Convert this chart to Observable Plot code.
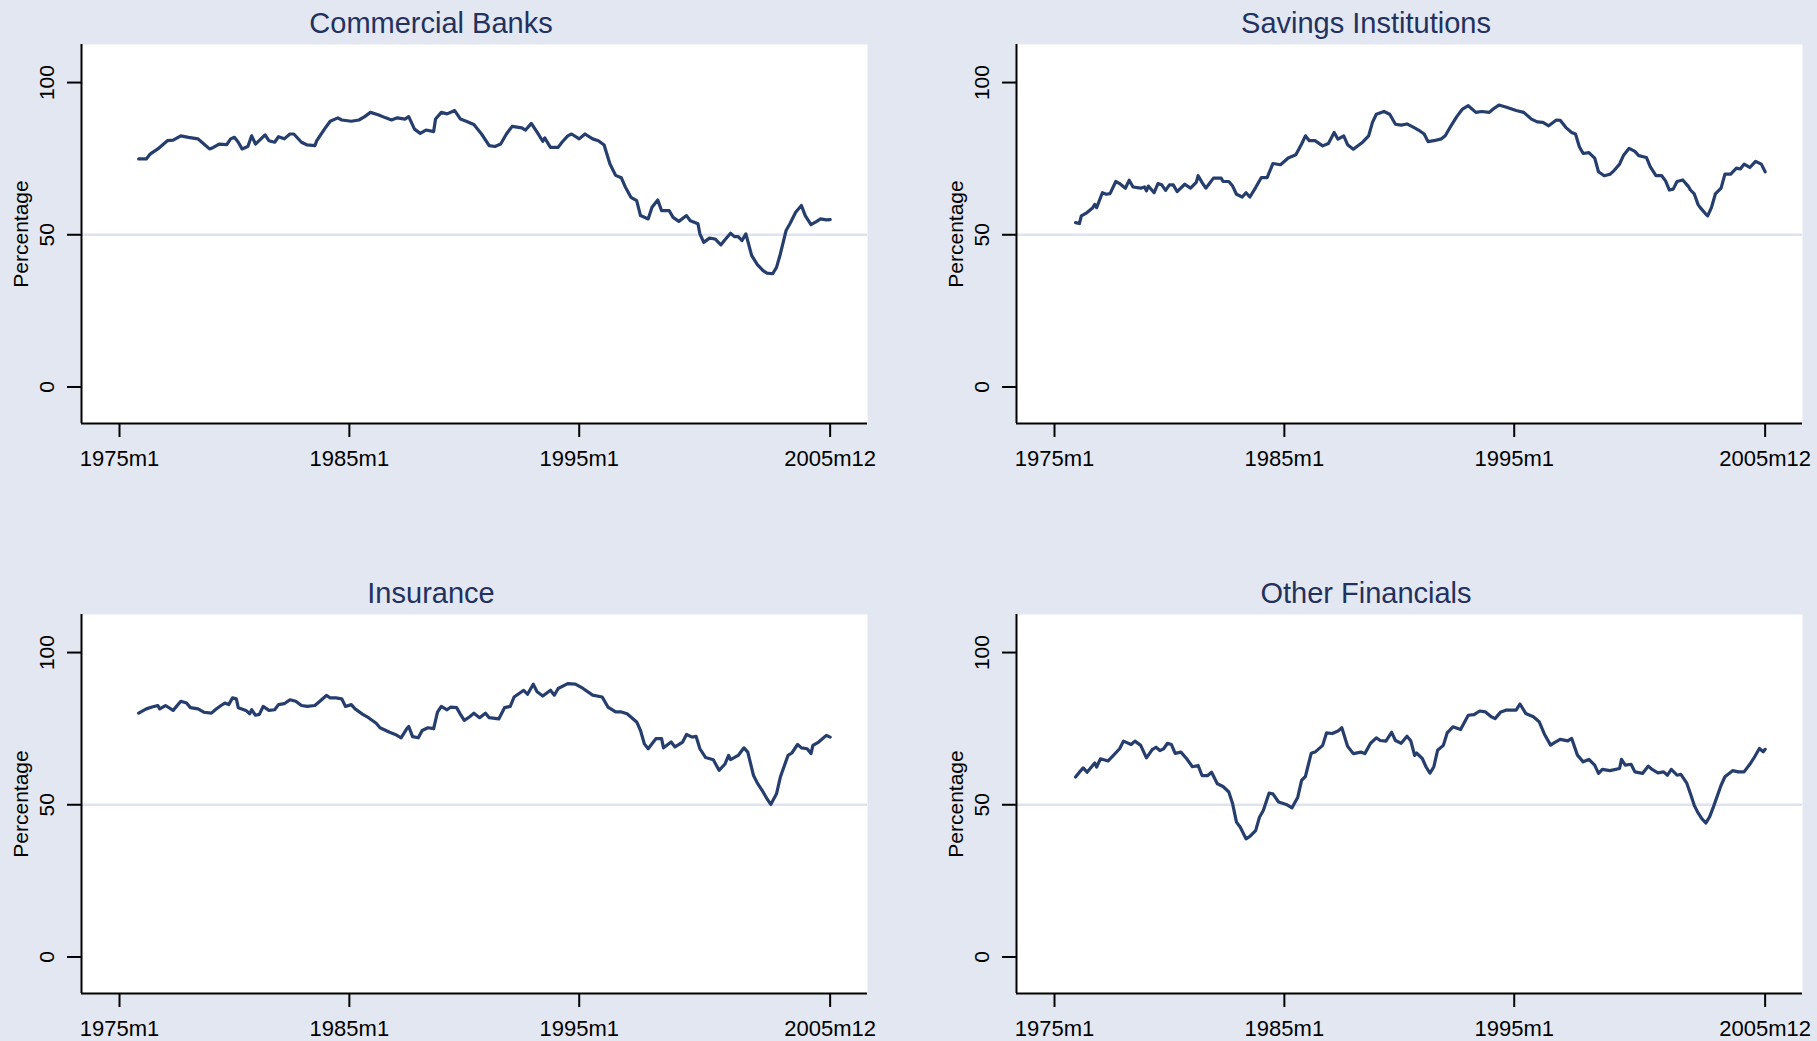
<!DOCTYPE html>
<html>
<head>
<meta charset="utf-8">
<script src="https://cdn.jsdelivr.net/npm/d3@7"></script>
<script src="https://cdn.jsdelivr.net/npm/@observablehq/plot@0.6"></script>
<style>
  html, body { margin: 0; padding: 0; overflow: hidden; background: #E2E7F1; }
  #chart { position: relative; width: 1817px; height: 1041px; background: #E2E7F1;
           font-family: "Liberation Sans", Arial, Helvetica, sans-serif; }
  .panel { position: absolute; width: 895px; height: 480px; }
  .title { position: absolute; left: 0; top: 0; width: 862px; height: 46px; line-height: 46px;
           text-align: center; font-size: 29px; color: #22315E; white-space: nowrap; }
  .plotwrap { position: absolute; left: 0; top: 44px; }
  svg { overflow: visible; }
</style>
</head>
<body>
<div id="chart"></div>
<script>
// Months are counted from 1975m1 (= 0); 2005m12 = 371. Values are percentages.
const panelTitles = ["Commercial Banks", "Savings Institutions", "Insurance", "Other Financials"];
const xTickMonths = [0, 120, 240, 371];
const xTickLabels = ["1975m1", "1985m1", "1995m1", "2005m12"];
const yTicks = [0, 50, 100];
const yAxisTitle = "Percentage";

const commercialBanks = [
  [10,74.9],[14,74.9],[16,76.5],[20,78.2],[25,80.9],[28,81.1],[32,82.5],[36,82.0],[41,81.5],[43,80.4],
  [47,78.2],[49,78.7],[52,79.8],[56,79.6],[58,81.5],[60,82.0],[62,80.4],[64,78.2],[67,79.0],[69,82.5],
  [71,79.8],[76,82.8],[78,80.9],[81,80.4],[83,82.2],[86,81.5],[89,83.1],[91,83.1],[95,80.4],[98,79.5],
  [102,79.3],[103,80.9],[107,84.7],[110,87.3],[114,88.4],[116,87.7],[121,87.3],[125,87.7],[128,88.8],[131,90.2],
  [135,89.4],[139,88.4],[142,87.7],[145,88.4],[149,88.0],[151,88.8],[154,84.7],[157,83.3],[160,84.4],[164,83.9],
  [165,88.0],[168,90.2],[171,89.7],[175,90.8],[178,88.0],[181,87.3],[185,86.2],[189,83.1],[193,79.3],[196,79.0],
  [199,79.8],[202,83.1],[205,85.6],[210,85.1],[212,84.4],[215,86.6],[218,83.7],[221,80.7],[222,81.8],[225,78.7],
  [229,78.7],[231,80.4],[234,82.5],[236,83.1],[240,81.5],[243,83.1],[247,81.5],[250,80.9],[253,79.5],[256,73.3],
  [259,69.5],[262,68.7],[264,65.8],[267,62.3],[270,61.2],[272,56.3],[276,55.2],[278,59.0],[281,61.4],[283,57.9],
  [287,57.9],[289,55.7],[292,54.4],[296,56.3],[298,54.6],[302,53.6],[303,50.3],[305,47.5],[308,48.9],[311,48.6],
  [314,46.7],[316,48.3],[319,50.5],[321,49.4],[323,49.4],[325,48.1],[327,50.3],[330,43.2],[333,40.2],[336,38.2],
  [338,37.4],[341,37.2],[343,39.3],[345,43.7],[348,51.4],[350,53.6],[353,57.4],[356,59.6],[358,56.3],[361,53.3],
  [364,54.4],[366,55.2],[369,54.9],[371,55.0]
];

const savingsInstitutions = [
  [11,54.0],[13,53.7],[14,56.2],[17,57.3],[20,58.9],[21,60.0],[22,58.9],[25,63.8],[27,63.3],[29,63.5],
  [32,67.5],[34,66.8],[37,65.3],[39,67.9],[41,65.7],[45,65.3],[47,65.7],[48,64.4],[49,66.0],[52,63.8],
  [54,66.8],[56,66.4],[58,64.6],[60,66.4],[62,66.4],[64,64.2],[68,66.6],[71,65.3],[74,67.2],[75,69.4],
  [77,67.2],[79,65.3],[83,68.6],[87,68.6],[88,67.5],[91,67.5],[93,66.0],[95,63.3],[98,62.4],[100,63.8],
  [102,62.4],[105,65.5],[108,68.8],[111,68.8],[114,73.4],[118,73.0],[122,75.2],[126,76.3],[129,79.8],[131,82.5],
  [133,80.9],[136,80.9],[140,79.2],[143,80.0],[146,83.6],[148,81.4],[151,82.5],[153,79.6],[156,78.1],[161,80.5],
  [164,82.5],[166,86.9],[168,89.6],[172,90.5],[175,89.6],[178,86.3],[181,86.0],[184,86.4],[188,85.1],[190,84.4],
  [193,83.1],[195,80.6],[198,80.9],[202,81.5],[204,82.5],[207,85.8],[210,88.8],[213,91.3],[216,92.4],[220,90.2],
  [223,90.5],[227,90.2],[229,91.3],[232,92.6],[236,91.9],[241,90.8],[245,90.2],[249,88.0],[252,87.1],[255,86.9],
  [258,85.8],[262,87.7],[264,87.6],[267,85.2],[270,83.6],[272,83.1],[274,78.9],[276,76.7],[279,77.0],[282,75.2],
  [284,70.7],[287,69.4],[290,69.9],[292,71.0],[295,73.2],[297,76.0],[300,78.4],[303,77.4],[305,76.0],[309,75.4],
  [311,72.4],[314,69.4],[317,69.4],[319,67.7],[321,64.7],[323,65.0],[325,67.5],[328,68.0],[331,65.8],[332,64.7],
  [334,63.4],[336,59.9],[337,59.0],[340,56.8],[341,56.2],[343,59.0],[345,63.4],[348,65.3],[350,69.9],[353,69.9],
  [356,71.9],[358,71.6],[360,73.2],[363,72.1],[366,74.1],[369,73.2],[371,70.7]
];

const insurance = [
  [10,80.1],[14,81.5],[17,82.1],[20,82.6],[21,81.5],[24,82.6],[28,81.0],[32,84.0],[35,83.4],[37,81.9],
  [41,81.5],[44,80.4],[48,80.1],[50,81.2],[53,82.6],[55,83.4],[57,82.9],[59,85.1],[61,84.8],[62,81.9],
  [66,81.0],[68,79.9],[69,81.2],[71,79.4],[73,79.7],[75,82.3],[78,81.0],[81,81.2],[83,82.9],[86,83.2],
  [89,84.5],[92,84.0],[95,82.6],[98,82.3],[102,82.6],[104,83.7],[108,85.9],[110,85.1],[113,85.1],[116,84.8],
  [118,82.3],[121,82.9],[123,81.5],[127,79.7],[130,78.6],[134,76.8],[136,75.3],[141,73.8],[144,73.1],[147,72.0],
  [150,75.0],[151,75.7],[153,72.4],[156,72.0],[158,74.4],[161,75.3],[164,75.0],[166,80.4],[168,82.3],[171,81.2],
  [173,82.1],[176,81.9],[178,79.7],[180,77.7],[183,79.0],[185,80.1],[188,78.6],[191,80.1],[193,78.6],[198,78.2],
  [201,81.9],[204,82.3],[206,85.4],[209,86.7],[211,87.6],[213,86.3],[216,89.6],[218,87.1],[221,85.7],[225,87.6],
  [227,86.0],[229,88.2],[234,89.8],[238,89.6],[242,88.2],[247,86.0],[252,85.4],[255,82.1],[259,80.5],[262,80.5],
  [265,79.9],[270,77.2],[272,74.4],[274,70.0],[276,68.4],[280,71.7],[283,71.7],[284,68.7],[288,70.6],[290,69.0],
  [294,70.6],[296,73.1],[299,72.2],[301,72.5],[303,68.4],[306,65.5],[310,64.8],[313,61.3],[316,63.3],[318,66.2],
  [319,64.8],[323,66.2],[326,68.7],[328,67.3],[331,59.6],[333,57.1],[336,54.2],[338,52.0],[340,50.1],[343,53.6],
  [345,59.1],[349,66.2],[351,67.0],[354,69.8],[356,68.7],[359,68.4],[361,66.8],[362,69.5],[365,70.6],[369,72.8],
  [371,72.2]
];

const otherFinancials = [
  [11,59.1],[13,60.7],[15,62.1],[17,60.7],[21,63.7],[22,62.4],[24,65.1],[28,64.4],[30,65.7],[34,68.4],
  [36,70.9],[40,69.8],[42,70.9],[45,69.5],[48,65.4],[51,68.1],[53,68.9],[55,67.8],[57,68.4],[59,70.2],
  [61,69.8],[63,66.9],[66,67.3],[69,65.1],[72,62.5],[75,62.9],[77,59.6],[80,59.6],[82,60.7],[85,56.9],
  [88,56.0],[91,54.2],[93,50.3],[95,44.3],[97,42.6],[100,38.8],[102,39.6],[105,41.5],[107,45.9],[109,48.1],
  [112,53.8],[114,53.6],[117,50.9],[121,50.1],[124,49.0],[127,52.5],[129,58.0],[131,59.3],[134,66.9],[136,67.3],
  [140,69.5],[142,73.6],[145,73.4],[148,74.2],[150,75.3],[153,69.2],[156,66.8],[160,67.3],[162,66.8],[165,70.2],
  [168,72.0],[170,71.1],[173,70.9],[176,73.8],[178,71.1],[181,70.2],[184,72.5],[186,71.0],[188,66.2],[189,67.0],
  [192,65.2],[194,62.4],[196,60.4],[198,62.4],[200,67.9],[203,69.5],[205,73.6],[208,75.6],[212,74.7],[216,79.4],
  [219,79.6],[222,80.8],[225,80.5],[228,78.9],[230,78.3],[233,80.5],[236,81.1],[241,81.1],[243,83.1],[246,80.0],
  [250,78.9],[253,77.3],[256,72.9],[259,69.6],[261,70.4],[264,71.5],[268,71.0],[270,71.8],[273,66.3],[276,64.1],
  [279,64.9],[282,63.0],[284,60.3],[286,61.6],[290,61.2],[295,61.9],[296,64.9],[298,63.0],[301,63.3],[303,60.8],
  [307,60.3],[310,62.7],[312,61.6],[315,60.5],[318,60.8],[320,59.7],[322,61.6],[325,59.7],[327,60.0],[330,57.2],
  [332,53.6],[334,49.8],[336,47.3],[338,45.4],[340,44.0],[342,46.0],[344,49.3],[348,56.4],[350,59.2],[354,61.2],
  [357,60.8],[360,60.8],[363,63.3],[365,65.2],[368,68.5],[370,67.4],[371,68.2]
];

const seriesList = [commercialBanks, savingsInstitutions, insurance, otherFinancials];
const panelPos = [[0, 0], [935, 0], [0, 570], [935, 570]];

const xDomain = [-19.84, 390.5];
const yDomain = [-12, 112.5];
const lineColor = "#263E6D";
const gridColor = "#DEE4EF";
const labelMap = new Map(xTickMonths.map((m, i) => [m, xTickLabels[i]]));

const chart = document.getElementById("chart");

seriesList.forEach((series, i) => {
  const panel = document.createElement("div");
  panel.className = "panel";
  panel.style.left = panelPos[i][0] + "px";
  panel.style.top = panelPos[i][1] + "px";

  const title = document.createElement("div");
  title.className = "title";
  title.textContent = panelTitles[i];
  panel.appendChild(title);

  const data = series.map(([t, v]) => ({t, v}));

  const svg = Plot.plot({
    width: 895,
    height: 430,
    marginLeft: 81,
    marginRight: 28,
    marginTop: 0,
    marginBottom: 51,
    x: {domain: xDomain},
    y: {domain: yDomain},
    style: {background: "transparent", fontFamily: "'Liberation Sans', Arial, Helvetica, sans-serif", color: "black", overflow: "visible"},
    marks: [
      Plot.frame({fill: "white", stroke: "none"}),
      Plot.ruleY([50], {stroke: gridColor, strokeWidth: 2.5}),
      Plot.line(data, {x: "t", y: "v", stroke: lineColor, strokeWidth: 3.2, strokeLinejoin: "round", strokeLinecap: "round"}),
      Plot.ruleX([xDomain[0]], {stroke: "black", strokeWidth: 2}),
      Plot.ruleY([yDomain[0]], {stroke: "black", strokeWidth: 2}),
      Plot.axisX(xTickMonths, {tickSize: 14, tickPadding: 13, tickFormat: d => labelMap.get(d), fontSize: 22, strokeWidth: 2, label: null}),
      Plot.axisY(yTicks, {tickSize: 14, tickFormat: () => "", strokeWidth: 2, label: null}),
      Plot.text(yTicks, {y: d => d, frameAnchor: "left", dx: -27.7, rotate: -90, textAnchor: "middle", lineAnchor: "bottom", fontSize: 21, fill: "black", text: d => String(d)}),
      Plot.text([yAxisTitle], {frameAnchor: "left", dx: -53.5, rotate: -90, textAnchor: "middle", lineAnchor: "bottom", fontSize: 21, fill: "black", text: d => d})
    ]
  });
  const wrap = document.createElement("div");
  wrap.className = "plotwrap";
  wrap.appendChild(svg);
  panel.appendChild(wrap);
  chart.appendChild(panel);
});
</script>
</body>
</html>
